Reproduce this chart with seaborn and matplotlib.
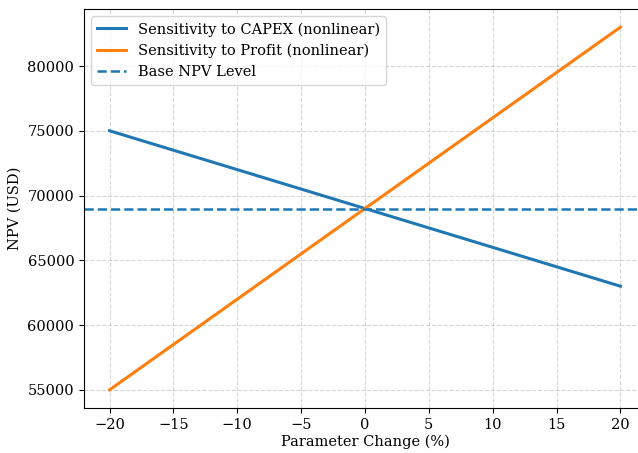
import matplotlib
matplotlib.use('Agg')
import matplotlib.pyplot as plt
import seaborn as sns

# values
pct_change = [-20, -15, -10, -5, 0, 5, 10, 15, 20]
npv_capex = [75000, 73500, 72000, 70500, 69000, 67500, 66000, 64500, 63000]
npv_profit = [55000, 58500, 62000, 65500, 69000, 72500, 76000, 79500, 83000]
base_npv = 69000

plt.rcParams['font.family'] = 'DejaVu Serif'
plt.rcParams['font.size'] = 10.5

fig = plt.figure(figsize=(6.38, 4.53), dpi=100)
# axes run past the right edge of the picture, like the cropped reference
ax = fig.add_axes([84/638, 45/453, 562/638, 399/453])

sns.lineplot(x=pct_change, y=npv_capex, ax=ax, color='#1f77b4', linewidth=2.2,
             label='Sensitivity to CAPEX (nonlinear)')
sns.lineplot(x=pct_change, y=npv_profit, ax=ax, color='#ff7f0e', linewidth=2.2,
             label='Sensitivity to Profit (nonlinear)')
ax.axhline(base_npv, color='#1f77b4', linestyle='--', linewidth=1.8, label='Base NPV Level')

ax.set_xlabel('Parameter Change (%)', labelpad=2)
ax.set_ylabel('NPV (USD)')
ax.grid(True, linestyle='--', alpha=0.5)
ax.spines['right'].set_visible(False)
ax.legend(loc='upper left')

fig.savefig('out.png', dpi=100)
